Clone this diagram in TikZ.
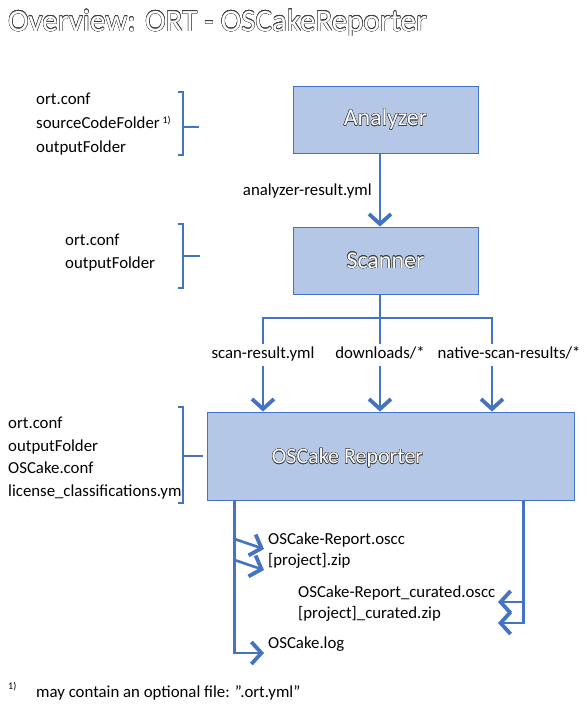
\documentclass[tikz,border=0pt]{standalone}
\usepackage{fontspec}
\setmainfont{Carlito}
\usepackage{contour}
\usetikzlibrary{arrows.meta,positioning,calc}
\definecolor{boxfill}{HTML}{B4C7E7}
\definecolor{boxline}{HTML}{4472C4}
\contourlength{0.35pt}
\newcommand\hollow[1]{\textcolor{white}{\contour{black!75}{#1}}}

\tikzset{
  tool/.style={draw=boxline,line width=0.9pt,fill=boxfill,minimum width=185pt,minimum height=67pt,font=\fontsize{24}{28}\selectfont},
  link/.style={draw=boxline,line width=2.6pt},
  flow/.style={link,-{Straight Barb[length=10pt,width=22pt,line width=3.8pt,sharp]}},
  brace/.style={draw=boxline,line width=2.2pt},
  file/.style={font=\fontsize{16.8}{24}\selectfont,inner sep=0pt,anchor=base west,align=left},
  tag/.style={font=\fontsize{16.8}{20}\selectfont,inner xsep=0pt,inner ysep=3.5pt,text height=11pt,text depth=3.5pt},
}

\begin{document}
\begin{tikzpicture}[x=1pt,y=-1pt]
\useasboundingbox (0,0) rectangle (588,705);

\node[anchor=base west,inner sep=0pt,font=\fontsize{31}{34}\selectfont] (title) at (8,31) {\hollow{Overview: ORT - OSCakeReporter}};

\node[tool] (analyzer) at (385.5,119.5) {\hollow{Analyzer}};
\node[tool] (scanner) at (385.5,260.5) {\hollow{Scanner}};
\node[tool,minimum width=367pt,minimum height=88pt] (reporter) at (390.5,456) {};
\node[font=\fontsize{22}{26}\selectfont] (reptext) at ([xshift=-43pt,yshift=-2pt]reporter.center) {\hollow{OSCake Reporter}};

\node[file] (cfga) at (36,152) {ort.conf\\sourceCodeFolder\,\raisebox{5pt}{\fontsize{10}{10}\selectfont 1)}\\outputFolder};
\node[file,font=\fontsize{16.8}{23}\selectfont] (cfgb) at (65,268) {ort.conf\\outputFolder};
\node[file,font=\fontsize{16.8}{22.4}\selectfont] (cfgc) at (8,496) {ort.conf\\outputFolder\\OSCake.conf\\license\_classifications.yml};

\foreach \ya/\yb/\ym/\xe in {92/155/127/199,224/288/256/200,407/503/456/203}{
\draw[brace] (178,\ya) -- (183,\ya) -- (183,\yb) -- (178,\yb);
\draw[brace] (183,\ym) -- (\xe,\ym);
}

\coordinate (axis) at (380,0);
\draw[flow] (analyzer.south-|axis) -- (scanner.north-|axis) node[midway,left=7pt,yshift=-2pt,tag]{analyzer-result.yml};

\node[tag] (scanres) at (263,355) {scan-result.yml};
\node[tag] (downl) at (380,355) {downloads/*};
\node[tag] (native) at (509,355) {native-scan-results/*};
\coordinate (forkl) at (263,318);
\coordinate (forkr) at (492,318);

\draw[link] (scanner.south-|axis) -- (downl.north);
\draw[link] (scanres.north) -- (forkl) -- (forkr) -- (forkr|-native.north);
\draw[flow] (scanres.south) -- (scanres.south|-reporter.north);
\draw[flow] (downl.south) -- (downl.south|-reporter.north);
\draw[flow] (forkr|-native.south) -- (forkr|-reporter.north);

\node[file] (oscc) at (268,544) {OSCake-Report.oscc};
\node[file] (zip) at (268,565) {[project].zip};
\node[file] (curoscc) at (298,597) {OSCake-Report\_curated.oscc};
\node[file] (curzip) at (298,618) {[project]\_curated.zip};
\node[file] (log) at (268,648) {OSCake.log};

\coordinate (outl) at ([xshift=28pt]reporter.south west);
\coordinate (outr) at ([xshift=-51pt]reporter.south east);
\coordinate (tipr) at (498,600);

\draw[flow] (outl) |- ([xshift=-4pt,yshift=-5pt]log.base west);
\foreach \nn in {oscc,zip}{
\draw[flow] (outl|-\nn.base) ++(0,-5) -- ([xshift=-4pt,yshift=-5pt]\nn.base west);
}
\draw[flow] (outr) |- ([yshift=-5pt]tipr|-curzip.base);
\draw[flow] ([yshift=-5pt]outr|-curoscc.base) -- ([yshift=-5pt]tipr|-curoscc.base);

\node[anchor=base west,inner sep=0pt,font=\fontsize{10}{10}\selectfont] (fnmark) at (8,689) {1)};
\node[file] (fntext) at (36,697) {may contain an optional file: \symbol{34}.ort.yml\symbol{34}};

\end{tikzpicture}
\end{document}
